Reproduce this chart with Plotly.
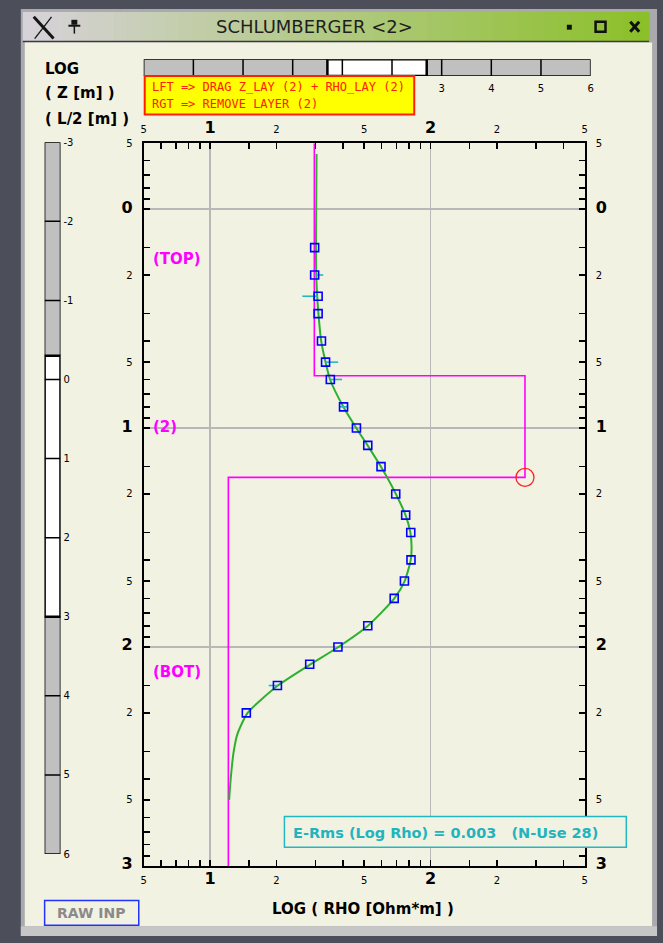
import math
import plotly.graph_objects as go

W, H = 663, 943
FONT = "DejaVu Sans"
BG = "#f2f2e3"
FRAME = "#4c4e5a"

# ---------------- data ----------------
AB2 = [1.5, 2, 2.5, 3, 4, 5, 6, 8, 10, 12, 15, 20, 25, 30, 40, 50, 60, 80, 100, 120, 150, 200]
RHO_APP = [29.8, 29.8, 30.9, 30.9, 32.0, 33.4, 35.1, 40.3, 46.1, 51.9, 59.6, 69.5, 77.1, 81.3,
           81.5, 76.1, 68.4, 51.9, 38.0, 28.3, 20.2, 14.6]
ERR_PLUS = [0, 2.8, 0, 0, 0, 4.7, 4.6, 2.0, 0, 0, 0, 0, 0, 0, 0, 0, 0, 0, 0, 0, 0, 0]
ERR_MINUS = [0, 0, 4.7, 0, 0, 0, 0, 1.8, 0, 0, 0, 0, 0, 0, 0, 0, 0, 0, 0, 0, 1.75, 0]

CURVE_AB2 = [0.56, 1.0, 1.5, 2, 2.5, 3, 4, 5, 6, 8, 10, 12, 15, 20, 25, 30, 35, 40, 50, 60,
             80, 100, 120, 150, 200, 250, 300, 400, 500]
CURVE_RHO = [30.4, 30.3, 30.2, 30.3, 30.6, 31.0, 31.9, 33.4, 35.0, 40.2, 46.0, 51.8, 59.5, 69.6,
             77.0, 81.0, 82.0, 81.3, 76.3, 68.5, 52.0, 38.2, 28.5, 20.3, 14.8, 13.3, 12.8, 12.4, 12.2]

LAYER_RHO = [29.7, 268.0, 12.1]
LAYER_BOTTOM = [5.77, 16.8]
LAYER_LABELS = ["(TOP)", "(2)", "(BOT)"]

RHO_RANGE = [5, 500]
Z_RANGE = [0.5, 1000]
SCROLL_MIN, SCROLL_MAX = -3, 6
SCROLL_X_LABELS = [3, 4, 5, 6]          # the others are hidden under the hint box

X_TICKVALS = [5, 10, 20, 50, 100, 200, 500]
X_TICKTEXT = ["5", "1", "2", "5", "2", "2", "5"]
X_TICKBOLD = [False, True, False, False, True, False, False]
X_MINOR = [6, 7, 8, 9, 15, 30, 40, 60, 70, 80, 90, 150, 300, 400]
Y_TICKVALS = [0.5, 1, 2, 5, 10, 20, 50, 100, 200, 500, 1000]
Y_TICKTEXT = ["5", "0", "2", "5", "1", "2", "5", "2", "2", "5", "3"]
Y_TICKBOLD = [False, True, False, False, True, False, False, True, False, False, True]
Y_MINOR = [0.6, 0.7, 0.8, 0.9, 1.5, 3, 4, 6, 7, 8, 9, 15, 30, 40, 60, 70, 80, 90,
           150, 300, 400, 600, 700, 800, 900]
GRID_X = [10, 100]
GRID_Y = [1, 10, 100]

TITLE = "SCHLUMBERGER &lt;2&gt;"
LEFT_LABELS = ["LOG", "( Z [m] )", "( L/2 [m] )"]
HINT_LINES = ["LFT => DRAG Z_LAY (2) + RHO_LAY (2)", "RGT => REMOVE LAYER (2)"]
ERMS_TEXT = "E-Rms (Log Rho) = 0.003\u00a0\u00a0\u00a0(N-Use 28)"
XTITLE = "LOG ( RHO [Ohm*m] )"
BUTTON = "RAW INP"

# ---------------- helpers ----------------
def px(x):
    return x / W


def py(y):
    return 1 - y / H


shapes = []
annotations = []


def prect(x0, y0, x1, y1, fill=None, line=None, lw=0, layer="below"):
    shapes.append(dict(type="rect", xref="paper", yref="paper",
                       x0=px(x0), x1=px(x1), y0=py(y0), y1=py(y1),
                       fillcolor=fill or "rgba(0,0,0,0)",
                       line=dict(color=line or "rgba(0,0,0,0)", width=lw), layer=layer))


def pline(x0, y0, x1, y1, color, lw, layer="above"):
    shapes.append(dict(type="line", xref="paper", yref="paper",
                       x0=px(x0), x1=px(x1), y0=py(y0), y1=py(y1),
                       line=dict(color=color, width=lw), layer=layer))


def ptext(x, y, text, size, color="black", bold=False, xanchor="left", family=FONT):
    annotations.append(dict(x=px(x), y=py(y), xref="paper", yref="paper", text=text,
                            showarrow=False, xanchor=xanchor, yanchor="middle",
                            font=dict(family=family, size=size, color=color,
                                      weight="bold" if bold else "normal")))


def lab(t, bold):
    if bold:
        return f"<span style='font-size:16px;font-weight:bold'>{t}</span>"
    return t


def lerp_hex(c1, c2, t):
    a = [int(c1[i:i + 2], 16) for i in (1, 3, 5)]
    b = [int(c2[i:i + 2], 16) for i in (1, 3, 5)]
    return "#" + "".join(f"{round(a[k] + (b[k] - a[k]) * t):02x}" for k in range(3))


# ---------------- window chrome ----------------
prect(18, 4, 660, 943, fill="#a9a9ae")
N = 48
for i in range(N):
    x0 = 20 + (652 - 20) * i / N
    x1 = 20 + (652 - 20) * (i + 1) / N + 0.6
    prect(x0, 7, x1, 37, fill=lerp_hex("#d6d2d8", "#8cc02a", i / (N - 1)))
pline(20, 37, 652, 37, "#3a3a3a", 1.5, layer="below")
prect(22, 38, 655, 933, fill=BG)
prect(18, 933, 660, 943, fill="#c6c6c6")
ptext(314, 22, TITLE, 18, color="#1e1e1e", xanchor="center")
# X logo
pline(31, 12, 51, 34, "#151515", 3)
pline(49, 12, 32, 34, "#151515", 1.3)
# pin
prect(69, 15, 75, 20, fill="#151515")
pline(66, 21, 78, 21, "#151515", 2)
pline(72, 21, 72, 29, "#151515", 1.5)
# window buttons
prect(569, 20, 574, 25, fill="#101010", layer="above")
prect(598, 17, 608, 27, line="#101010", lw=2.5, layer="above")
pline(633, 17, 642, 27, "#101010", 3)
pline(642, 17, 633, 27, "#101010", 3)

# ---------------- scroll bars (axes x2/y2 and x3/y3) ----------------
def scroll_shapes(xref, yref, along, lo, hi):
    def r(a0, a1, **kw):
        if along == "y":
            d = dict(x0=0, x1=1, y0=a0, y1=a1)
        else:
            d = dict(x0=a0, x1=a1, y0=0, y1=1)
        d.update(type="rect", xref=xref, yref=yref, layer="below", **kw)
        shapes.append(d)

    def l(a):
        if along == "y":
            d = dict(x0=0, x1=1, y0=a, y1=a)
        else:
            d = dict(x0=a, x1=a, y0=0, y1=1)
        d.update(type="line", xref=xref, yref=yref, layer="below",
                 line=dict(color="black", width=1.5))
        shapes.append(d)

    r(SCROLL_MIN, SCROLL_MAX, fillcolor="#c0c0c0", line=dict(color="black", width=1.5))
    r(lo, hi, fillcolor="white", line=dict(width=0))
    for v in range(SCROLL_MIN + 1, SCROLL_MAX):
        l(v)
    r(lo, hi, fillcolor="rgba(0,0,0,0)", line=dict(color="black", width=2.5))


scroll_shapes("x2", "y2", "y", math.log10(Z_RANGE[0]), math.log10(Z_RANGE[1]))
scroll_shapes("x3", "y3", "x", math.log10(RHO_RANGE[0]), math.log10(RHO_RANGE[1]))

SCROLL_TICKS = list(range(SCROLL_MIN, SCROLL_MAX + 1))

# ---------------- texts ----------------
for txt, yy in zip(LEFT_LABELS, [65, 89, 115]):
    ptext(40, yy, txt, 15, bold=True)

prect(143, 72, 415, 111, fill="#ffff00", line="#ff2000", lw=2, layer="above")
ptext(148, 83, HINT_LINES[0], 12, color="#ff2000", family="DejaVu Sans Mono")
ptext(148, 100, HINT_LINES[1], 12, color="#ff2000", family="DejaVu Sans Mono")

prect(284, 822, 629, 853, fill=BG, line="#22b8c2", lw=1.5, layer="above")
ptext(447, 839, ERMS_TEXT, 14.5, color="#22b4be", bold=True, xanchor="center")

ptext(363, 916, XTITLE, 15, bold=True, xanchor="center")

prect(42, 907, 137, 932, fill=BG, line="#2233ff", lw=1.5, layer="above")
ptext(89.5, 920, BUTTON, 14, color="#8a8a8a", bold=True, xanchor="center")

# layer labels at geometric middle of each layer
tops = [Z_RANGE[0]] + LAYER_BOTTOM
bots = LAYER_BOTTOM + [Z_RANGE[1]]
for name, t, b in zip(LAYER_LABELS, tops, bots):
    annotations.append(dict(x=px(149), xref="paper", y=math.log10(math.sqrt(t * b)), yref="y",
                            text=name, showarrow=False, xanchor="left", yanchor="middle",
                            font=dict(family=FONT, size=15, color="#ff00ff", weight="bold")))

# ---------------- traces ----------------
model_x, model_y = [], []
for i, rho in enumerate(LAYER_RHO):
    model_x += [rho, rho]
    model_y += [tops[i], bots[i]]

fig = go.Figure()
fig.add_trace(go.Scatter(x=model_x, y=model_y, mode="lines",
                         line=dict(color="#ff00ff", width=1.6), hoverinfo="skip"))
fig.add_trace(go.Scatter(x=CURVE_RHO, y=CURVE_AB2, mode="lines",
                         line=dict(color="#2eb02e", width=2, shape="spline", smoothing=0.6),
                         hoverinfo="skip"))
fig.add_trace(go.Scatter(x=RHO_APP, y=AB2, mode="markers",
                         marker=dict(symbol="square-open", size=8, color="#0000ff",
                                     line=dict(width=1.6, color="#0000ff")),
                         error_x=dict(type="data", symmetric=False, array=ERR_PLUS,
                                      arrayminus=ERR_MINUS, color="#22b8c2",
                                      thickness=1.6, width=0),
                         hoverinfo="skip"))
fig.add_trace(go.Scatter(x=[LAYER_RHO[1]], y=[LAYER_BOTTOM[1]], mode="markers",
                         marker=dict(symbol="circle-open", size=18, color="#ff2020",
                                     line=dict(width=1.3, color="#ff2020")),
                         hoverinfo="skip"))
for xa, ya, xv, yv in [("x2", "y2", 0.5, 0), ("x3", "y3", 0, 0.5),
                       ("x4", "y4", 10, 10), ("x5", "y5", 10, 10)]:
    fig.add_trace(go.Scatter(x=[xv], y=[yv], xaxis=xa, yaxis=ya, mode="markers",
                             marker=dict(opacity=0, size=1), hoverinfo="skip"))

MAIN_X = [px(142), px(587)]
MAIN_Y = [py(872), py(140)]
XR = [math.log10(RHO_RANGE[0]), math.log10(RHO_RANGE[1])]
YR = [math.log10(Z_RANGE[1]), math.log10(Z_RANGE[0])]
tickfont = dict(family=FONT, size=10, color="black")


def main_axis(vals, texts, bolds, minor_vals, rng, side, **kw):
    d = dict(type="log", range=rng, side=side, tickvals=vals,
             ticktext=[lab(t, b) for t, b in zip(texts, bolds)],
             ticks="inside", ticklen=6, tickwidth=1.5, tickcolor="black",
             showline=True, linecolor="black", linewidth=2, showgrid=False, zeroline=False,
             tickfont=tickfont, ticklabelstandoff=4,
             minor=dict(tickvals=minor_vals, ticks="inside", ticklen=6, tickwidth=1.5,
                        tickcolor="black", showgrid=False))
    d.update(kw)
    return d


fig.update_layout(
    width=W, height=H, autosize=False,
    margin=dict(l=0, r=0, t=0, b=0, pad=0),
    paper_bgcolor=FRAME, plot_bgcolor=BG,
    showlegend=False, hovermode=False,
    xaxis=main_axis(X_TICKVALS, X_TICKTEXT, X_TICKBOLD, X_MINOR, XR, "bottom",
                    domain=MAIN_X, anchor="y"),
    xaxis4=main_axis(X_TICKVALS, X_TICKTEXT, X_TICKBOLD, X_MINOR, XR, "top",
                     overlaying="x", anchor="y"),
    yaxis=main_axis(Y_TICKVALS, Y_TICKTEXT, Y_TICKBOLD, Y_MINOR, YR, "left",
                    domain=MAIN_Y, anchor="x", ticklabelstandoff=7),
    yaxis4=main_axis(Y_TICKVALS, Y_TICKTEXT, Y_TICKBOLD, Y_MINOR, YR, "right",
                     overlaying="y", anchor="x", ticklabelstandoff=7),
    xaxis5=dict(type="log", range=XR, overlaying="x", anchor="y", tickvals=GRID_X,
                showgrid=True, gridcolor="#b8b8b8", gridwidth=1.5, ticks="",
                showticklabels=False, showline=False, zeroline=False),
    yaxis5=dict(type="log", range=YR, overlaying="y", anchor="x", tickvals=GRID_Y,
                showgrid=True, gridcolor="#b8b8b8", gridwidth=1.5, ticks="",
                showticklabels=False, showline=False, zeroline=False),
    xaxis2=dict(domain=[px(42), px(58)], range=[0, 1], anchor="y2", visible=False),
    yaxis2=dict(domain=[py(860), py(139)], range=[SCROLL_MAX, SCROLL_MIN], anchor="x2",
                side="right", tickvals=SCROLL_TICKS, ticktext=[str(v) for v in SCROLL_TICKS],
                ticks="", showgrid=False, zeroline=False, showline=False,
                tickfont=tickfont, ticklabelstandoff=2),
    xaxis3=dict(domain=[px(142), px(593)], range=[SCROLL_MIN, SCROLL_MAX], anchor="y3",
                side="bottom", tickvals=SCROLL_X_LABELS,
                ticktext=[str(v) for v in SCROLL_X_LABELS],
                ticks="", showgrid=False, zeroline=False, showline=False,
                tickfont=tickfont, ticklabelstandoff=5),
    yaxis3=dict(domain=[py(72), py(55)], range=[0, 1], anchor="x3", visible=False),
    shapes=shapes,
    annotations=annotations,
)

fig.write_html("out.html", config={"displayModeBar": False, "staticPlot": True},
               post_script="document.body.style.margin='0';")
